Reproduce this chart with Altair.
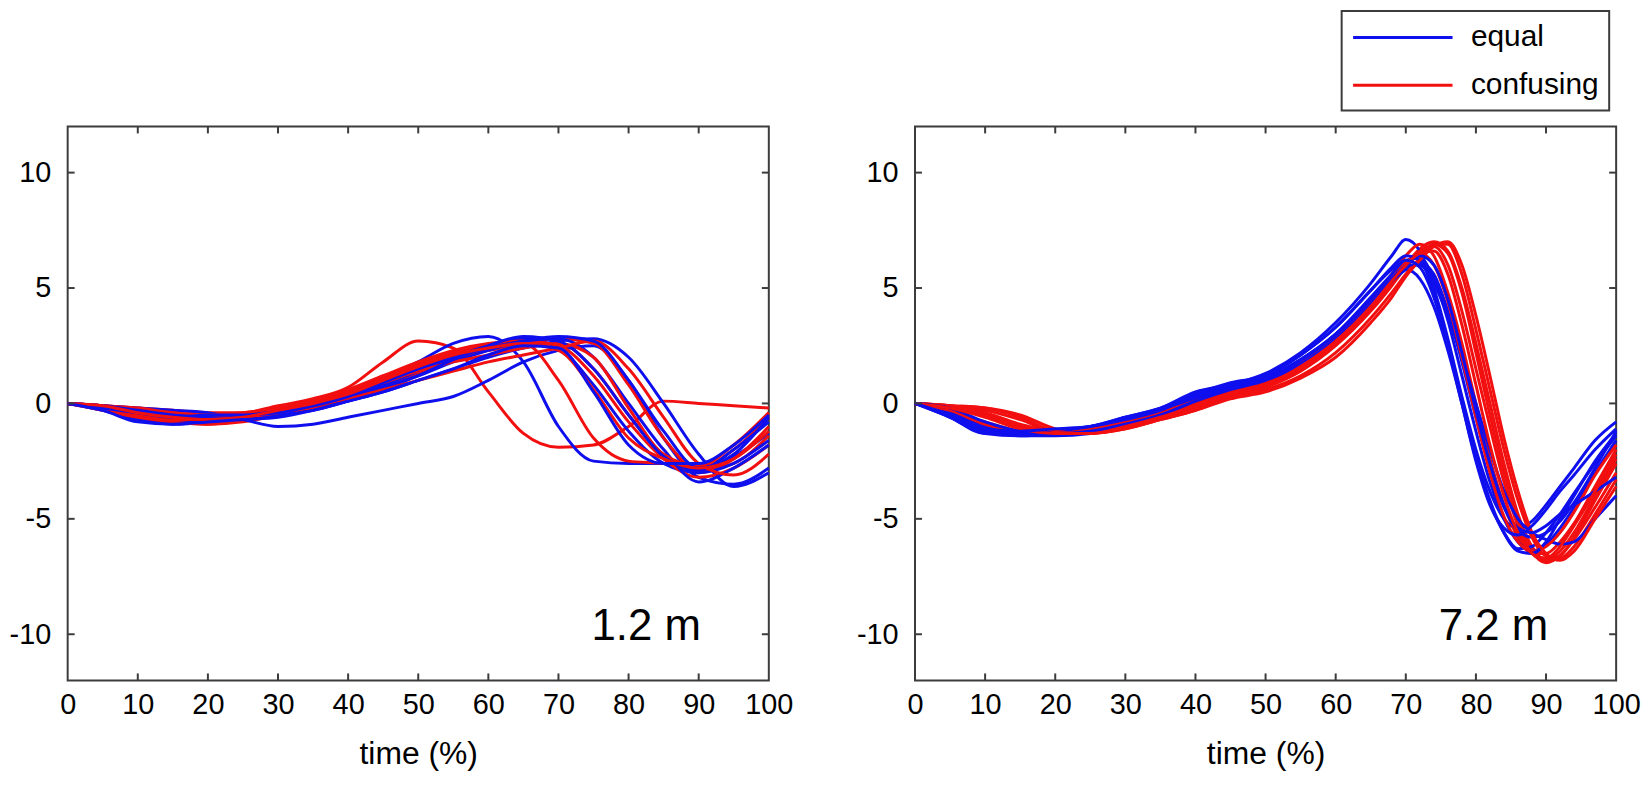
import altair as alt
import pandas as pd

# ---------------- data ----------------
X_LEFT = [0, 5, 10, 15, 20, 25, 30, 35, 40, 45, 50, 55, 60, 65, 70, 75, 80, 85, 90, 95, 100]

LEFT_EQUAL = [
    [0, -0.2, -0.5, -0.7, -0.6, -0.5, -0.3, 0.0, 0.5, 1.1, 1.8, 2.6, 2.9, 1.8, -1.0, -2.5, -2.6, -2.6, -2.9, -2.3, -1.3],
    [0, -0.1, -0.2, -0.3, -0.4, -0.7, -1.0, -0.9, -0.6, -0.3, 0.0, 0.3, 1.0, 1.8, 2.3, 2.5, 1.0, -1.5, -3.2, -3.5, -2.8],
    [0, -0.1, -0.3, -0.5, -0.5, -0.5, -0.4, -0.2, 0.1, 0.5, 1.0, 1.5, 2.0, 2.4, 2.7, 2.8, 2.0, 0.0, -2.2, -3.6, -3.0],
    [0, -0.3, -0.7, -0.9, -0.8, -0.6, -0.4, -0.1, 0.3, 0.8, 1.4, 2.0, 2.5, 2.8, 2.4, 0.8, -1.2, -2.6, -3.0, -2.6, -1.6],
    [0, -0.2, -0.6, -0.8, -0.7, -0.6, -0.4, -0.1, 0.2, 0.7, 1.2, 1.8, 2.3, 2.7, 2.8, 2.0, 0.0, -2.0, -3.4, -2.8, -1.8],
    [0, -0.1, -0.3, -0.5, -0.6, -0.7, -0.5, -0.3, 0.1, 0.6, 1.2, 1.9, 2.5, 2.9, 2.7, 1.5, -0.5, -2.3, -2.9, -2.0, -0.8],
    [0, -0.2, -0.4, -0.6, -0.5, -0.5, -0.4, -0.1, 0.3, 0.9, 1.5, 2.0, 2.4, 2.7, 2.9, 2.7, 1.0, -1.2, -2.8, -2.2, -0.6],
    [0, -0.3, -0.8, -0.9, -0.8, -0.7, -0.6, -0.3, 0.1, 0.5, 1.0, 1.5, 2.1, 2.5, 2.4, 0.5, -1.8, -2.6, -2.6, -1.8, -0.5],
]

LEFT_CONFUSING = [
    [0, -0.1, -0.2, -0.3, -0.4, -0.4, -0.1, 0.2, 0.7, 1.8, 2.7, 2.4, 0.5, -1.3, -1.9, -1.8, -1.0, 0.1, 0.0, -0.1, -0.2],
    [0, -0.2, -0.5, -0.6, -0.9, -0.8, -0.5, -0.2, 0.3, 0.9, 1.5, 2.0, 2.3, 2.5, 2.6, 1.5, -0.5, -2.3, -3.0, -2.4, -1.0],
    [0, -0.1, -0.3, -0.4, -0.6, -0.6, -0.3, 0.0, 0.5, 1.1, 1.7, 2.2, 2.5, 2.6, 1.0, -1.5, -2.5, -2.6, -2.8, -2.0, -0.6],
    [0, -0.2, -0.4, -0.6, -0.8, -0.7, -0.5, -0.2, 0.2, 0.7, 1.3, 1.9, 2.3, 2.6, 2.8, 2.6, 0.8, -1.5, -2.9, -2.6, -1.4],
    [0, -0.1, -0.2, -0.4, -0.5, -0.4, -0.2, 0.1, 0.6, 1.2, 1.8, 2.3, 2.6, 2.7, 2.5, 1.2, -0.8, -2.4, -3.2, -2.8, -1.8],
    [0, -0.3, -0.6, -0.8, -0.9, -0.7, -0.4, -0.1, 0.4, 0.9, 1.4, 1.8, 2.1, 2.4, 2.6, 2.0, -0.2, -2.2, -2.7, -1.8, -0.4],
    [0, -0.2, -0.5, -0.7, -0.7, -0.6, -0.4, -0.1, 0.2, 0.6, 1.0, 1.4, 1.8, 2.1, 2.4, 2.7, 1.5, -0.6, -2.6, -3.1, -2.2],
    [0, -0.1, -0.4, -0.6, -0.7, -0.6, -0.3, 0.0, 0.4, 1.0, 1.6, 2.1, 2.4, 2.6, 2.3, 0.6, -1.5, -2.4, -2.8, -2.4, -1.2],
]

X_RIGHT = [0, 5, 10, 15, 20, 25, 30, 35, 40, 45, 50, 55, 60, 65, 68, 70, 72, 74, 76, 78,
           80, 82, 84, 86, 88, 90, 92, 94, 97, 100]

RIGHT_EQUAL = [
    [0, -0.5, -1.2, -1.3, -1.2, -1.0, -0.6, -0.2, 0.4, 0.8, 1.3, 2.2, 3.5, 5.2, 6.4, 7.1, 6.6, 5.0, 2.8, 0.3, -2.0, -3.8, -5.0, -5.4, -5.1, -4.4, -3.6, -2.8, -1.6, -0.8],
    [0, -0.6, -1.3, -1.4, -1.3, -1.1, -0.7, -0.3, 0.3, 0.7, 1.1, 1.9, 3.0, 4.5, 5.4, 5.8, 5.4, 4.2, 2.3, 0.0, -2.4, -4.3, -5.6, -6.3, -6.2, -5.6, -4.8, -3.9, -2.6, -1.4],
    [0, -0.4, -1.0, -1.3, -1.3, -1.2, -0.8, -0.4, 0.2, 0.6, 1.0, 1.8, 3.0, 4.6, 5.6, 6.2, 6.3, 5.4, 3.6, 1.2, -1.2, -3.4, -5.0, -6.0, -6.4, -6.1, -5.4, -4.5, -3.0, -1.6],
    [0, -0.3, -0.9, -1.2, -1.3, -1.2, -0.9, -0.5, 0.1, 0.6, 1.0, 1.8, 2.9, 4.4, 5.3, 5.8, 6.1, 5.6, 4.0, 1.8, -0.6, -2.8, -4.5, -5.5, -5.8, -5.6, -5.1, -4.3, -2.8, -1.2],
    [0, -0.4, -1.1, -1.4, -1.4, -1.3, -0.9, -0.4, 0.2, 0.7, 1.1, 1.9, 3.0, 4.5, 5.5, 6.0, 6.0, 5.2, 3.8, 2.0, 0.0, -2.0, -3.8, -5.0, -5.6, -5.9, -6.1, -6.0, -5.0, -4.0],
    [0, -0.6, -1.3, -1.3, -1.2, -1.0, -0.7, -0.3, 0.4, 0.9, 1.2, 2.1, 3.3, 4.9, 5.9, 6.4, 6.2, 4.8, 2.6, 0.2, -2.2, -4.2, -5.6, -6.4, -6.5, -6.0, -5.0, -4.0, -2.5, -1.3],
    [0, -0.2, -0.8, -1.2, -1.3, -1.2, -0.9, -0.5, 0.1, 0.6, 1.0, 1.7, 2.8, 4.3, 5.4, 6.0, 6.4, 6.0, 4.5, 2.2, -0.3, -2.6, -4.4, -5.4, -5.6, -5.3, -4.8, -4.4, -3.8, -3.2],
    [0, -0.5, -1.1, -1.2, -1.1, -1.0, -0.6, -0.2, 0.5, 0.8, 1.2, 2.1, 3.3, 4.9, 5.8, 6.2, 5.9, 4.6, 2.5, 0.0, -2.5, -4.4, -5.4, -5.7, -5.3, -4.6, -3.8, -3.1, -2.0, -1.1],
]

RIGHT_CONFUSING = [
    [0, -0.1, -0.3, -0.7, -1.2, -1.2, -1.0, -0.6, -0.2, 0.4, 0.8, 1.5, 2.6, 4.2, 5.3, 6.0, 6.7, 7.0, 6.6, 5.0, 2.6, 0.0, -2.6, -4.8, -6.2, -6.8, -6.6, -5.8, -4.2, -2.6],
    [0, -0.1, -0.2, -0.5, -1.1, -1.3, -1.1, -0.7, -0.3, 0.3, 0.7, 1.4, 2.5, 4.0, 5.1, 5.9, 6.5, 6.9, 6.5, 4.8, 2.2, -0.5, -3.0, -5.0, -6.4, -6.9, -6.6, -5.9, -4.5, -3.0],
    [0, -0.3, -0.8, -1.2, -1.3, -1.2, -0.9, -0.5, 0.0, 0.5, 0.9, 1.7, 2.8, 4.4, 5.6, 6.4, 6.9, 6.4, 4.8, 2.6, 0.0, -2.4, -4.4, -5.8, -6.5, -6.5, -6.0, -5.2, -3.6, -2.0],
    [0, -0.2, -0.5, -1.0, -1.3, -1.3, -1.0, -0.6, -0.1, 0.4, 0.8, 1.5, 2.6, 4.1, 5.2, 6.0, 6.6, 6.8, 6.0, 4.0, 1.5, -1.0, -3.4, -5.3, -6.5, -6.8, -6.4, -5.6, -4.0, -2.4],
    [0, -0.1, -0.4, -0.9, -1.2, -1.2, -1.0, -0.6, -0.2, 0.3, 0.6, 1.2, 2.2, 3.7, 4.8, 5.6, 6.3, 6.9, 6.9, 5.6, 3.2, 0.6, -2.0, -4.2, -5.8, -6.6, -6.7, -6.2, -4.8, -3.3],
    [0, -0.3, -0.9, -1.2, -1.2, -1.1, -0.8, -0.4, 0.1, 0.5, 0.9, 1.7, 2.8, 4.3, 5.4, 6.1, 6.5, 6.0, 4.4, 2.0, -0.6, -3.0, -4.9, -6.0, -6.4, -6.2, -5.6, -4.7, -3.1, -1.8],
    [0, -0.1, -0.2, -0.6, -1.2, -1.3, -1.1, -0.7, -0.3, 0.2, 0.5, 1.1, 2.0, 3.5, 4.6, 5.5, 6.2, 6.8, 7.0, 6.0, 3.8, 1.2, -1.5, -3.8, -5.6, -6.5, -6.8, -6.4, -5.0, -3.6],
    [0, -0.2, -0.6, -1.1, -1.3, -1.3, -1.0, -0.6, -0.1, 0.4, 0.8, 1.6, 2.7, 4.2, 5.3, 6.0, 6.5, 6.6, 5.6, 3.4, 0.8, -1.8, -4.0, -5.6, -6.5, -6.7, -6.2, -5.3, -3.8, -2.2],
]

GROUPS = ["equal", "confusing"]
COLORS = ["#0f0fee", "#f20f0f"]
PANEL_LABELS = ["1.2 m", "7.2 m"]
LABEL_X = [82.5, 82.5]
LABEL_Y = [-10.25, -10.25]
X_TICKS = [0, 10, 20, 30, 40, 50, 60, 70, 80, 90, 100]
X_INNER_TICKS = [10, 20, 30, 40, 50, 60, 70, 80, 90]
Y_TICKS = [-10, -5, 0, 5, 10]

W, H = 705, 557
FRAME = "#3c3c3c"
FONT = "Liberation Sans"


def long_table(xs, equal, confusing):
    rows = []
    n = max(len(equal), len(confusing))
    for i in range(n):
        for g, series in (("confusing", confusing), ("equal", equal)):
            if i < len(series):
                sid = f"{i:02d}_{g}"
                for x, y in zip(xs, series[i]):
                    rows.append({"x": x, "y": y, "group": g, "id": sid})
    return pd.DataFrame(rows)


xscale = alt.Scale(domain=[0, 100], nice=False, zero=False)
yscale = alt.Scale(domain=[-12, 12], nice=False, zero=False)
xaxis = alt.Axis(values=X_TICKS, title="time (%)", labelExpr="'' + datum.value", labelFlush=False)
yaxis = alt.Axis(values=Y_TICKS, title=None, labelExpr="'' + datum.value")


def panel(df, label, lx, ly):
    lines = alt.Chart(df).mark_line(strokeWidth=3, interpolate="monotone").encode(
        x=alt.X("x:Q", scale=xscale, axis=xaxis),
        y=alt.Y("y:Q", scale=yscale, axis=yaxis),
        color=alt.Color(
            "group:N",
            scale=alt.Scale(domain=GROUPS, range=COLORS),
            legend=alt.Legend(
                title=None,
                orient="none",
                legendX=1281,
                legendY=-116,
                symbolType="M-3.333,0H3.333",
                symbolSize=900,
                symbolStrokeWidth=3,
                symbolOffset=35,
                labelFontSize=30,
                labelFont=FONT,
                labelColor="black",
                labelOffset=52,
                rowPadding=16,
                padding=10,
                strokeColor=FRAME,
            ),
        ),
        detail="id:N",
    )
    xt = pd.DataFrame({"x": X_INNER_TICKS})
    yt = pd.DataFrame({"y": Y_TICKS})
    tick_b = alt.Chart(xt).mark_rule(color=FRAME, strokeWidth=2).encode(
        x=alt.X("x:Q", scale=xscale, axis=xaxis), y=alt.value(H), y2=alt.value(H - 7))
    tick_t = alt.Chart(xt).mark_rule(color=FRAME, strokeWidth=2).encode(
        x=alt.X("x:Q", scale=xscale, axis=xaxis), y=alt.value(0), y2=alt.value(7))
    tick_l = alt.Chart(yt).mark_rule(color=FRAME, strokeWidth=2).encode(
        y=alt.Y("y:Q", scale=yscale, axis=yaxis), x=alt.value(0), x2=alt.value(7))
    tick_r = alt.Chart(yt).mark_rule(color=FRAME, strokeWidth=2).encode(
        y=alt.Y("y:Q", scale=yscale, axis=yaxis), x=alt.value(W), x2=alt.value(W - 7))
    txt = alt.Chart(pd.DataFrame({"x": [lx], "y": [ly], "t": [label]})).mark_text(
        fontSize=44, font=FONT, color="black", align="center", baseline="alphabetic"
    ).encode(
        x=alt.X("x:Q", scale=xscale, axis=xaxis),
        y=alt.Y("y:Q", scale=yscale, axis=yaxis),
        text="t:N",
    )
    return alt.layer(lines, tick_b, tick_t, tick_l, tick_r, txt).properties(width=W, height=H)


left = panel(long_table(X_LEFT, LEFT_EQUAL, LEFT_CONFUSING), PANEL_LABELS[0], LABEL_X[0], LABEL_Y[0])
right = panel(long_table(X_RIGHT, RIGHT_EQUAL, RIGHT_CONFUSING), PANEL_LABELS[1], LABEL_X[1], LABEL_Y[1])

chart = alt.hconcat(left, right, spacing=147, bounds="flush").properties(
    padding=0
).configure_view(
    stroke=FRAME, strokeWidth=2
).configure_axis(
    domain=False,
    ticks=False,
    grid=False,
    labelFont=FONT,
    labelFontSize=29,
    labelColor="black",
    titleFont=FONT,
    titleFontSize=32,
    titleFontWeight="normal",
    titleColor="black",
).configure_axisX(
    labelPadding=10, titlePadding=20
).configure_axisY(
    labelPadding=17
).configure_legend(
    strokeWidth=2
)

chart.save("out.html", embed_options={"renderer": "svg", "actions": False})
